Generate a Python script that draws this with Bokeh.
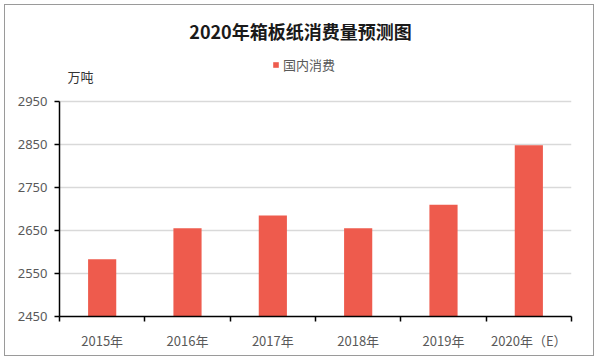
from bokeh.plotting import figure
from bokeh.models import (ColumnDataSource, FixedTicker, Range1d, Label, Legend, LegendItem)
from bokeh.embed import file_html
from bokeh.resources import INLINE

categories = ["2015年", "2016年", "2017年", "2018年", "2019年", "2020年（E）"]
values = [2583, 2655, 2685, 2655, 2710, 2848]
y_ticks = [2450, 2550, 2650, 2750, 2850, 2950]

xpos = [i + 0.5 for i in range(len(categories))]
src = ColumnDataSource(dict(x=xpos, top=values, cat=categories))

p = figure(width=590, height=352, output_backend="svg", toolbar_location=None,
           x_range=Range1d(0, len(categories)), y_range=Range1d(2450, 3173),
           min_border_left=54, min_border_right=24, min_border_top=0, min_border_bottom=41)
p.styles = {"border": "1px solid #9a9a9a", "margin": "4px"}
p.outline_line_color = None
p.background_fill_color = "white"
p.border_fill_color = "white"

bars = p.vbar(x="x", top="top", bottom=2450, width=0.33, source=src,
              fill_color="#EE5B4D", line_color=None)

# x axis
xa = p.xaxis[0]
xa.ticker = FixedTicker(ticks=xpos, minor_ticks=list(range(len(categories) + 1)))
xa.major_label_overrides = {x: c for x, c in zip(xpos, categories)}
xa.major_tick_out = 0
xa.major_tick_in = 0
xa.minor_tick_out = 5
xa.minor_tick_in = 0
xa.minor_tick_line_color = "black"
xa.minor_tick_line_width = 1.5
xa.axis_line_color = "black"
xa.axis_line_width = 1.5
xa.major_label_standoff = 9
xa.major_label_text_font = "Noto Sans CJK SC"
xa.major_label_text_font_size = "13px"
xa.major_label_text_color = "#595959"

# y axis
ya = p.yaxis[0]
ya.ticker = FixedTicker(ticks=y_ticks)
ya.bounds = (y_ticks[0], y_ticks[-1])
ya.major_tick_out = 5
ya.major_tick_in = 0
ya.minor_tick_out = 0
ya.minor_tick_in = 0
ya.major_tick_line_color = "black"
ya.major_tick_line_width = 1.5
ya.axis_line_color = "black"
ya.axis_line_width = 1.5
ya.major_label_standoff = 7
ya.major_label_text_font = "Noto Sans"
ya.major_label_text_font_size = "13px"
ya.major_label_text_color = "#595959"

p.xgrid.grid_line_color = None
p.ygrid.ticker = FixedTicker(ticks=y_ticks[1:])
p.ygrid.grid_line_color = "#D9D9D9"
p.ygrid.grid_line_width = 1.3

title = Label(x=241, y=286, x_units="screen", y_units="screen",
              text="2020年箱板纸消费量预测图", text_align="center", text_baseline="middle",
              text_font="Noto Sans CJK SC", text_font_size="18px", text_font_style="bold",
              text_color="#1a1a1a")
p.add_layout(title)

unit = Label(x=21, y=240, x_units="screen", y_units="screen", text="万吨",
             text_align="center", text_baseline="middle", text_font="Noto Sans CJK SC",
             text_font_size="13px", text_color="#333333")
p.add_layout(unit)

legend = Legend(items=[LegendItem(label="国内消费", renderers=[bars])],
                location=(213, 242), orientation="horizontal",
                glyph_width=7, glyph_height=7, label_standoff=4, label_height=14,
                label_text_font="Noto Sans CJK SC", label_text_font_size="13px",
                label_text_color="#595959", padding=0, margin=0, spacing=0,
                border_line_color=None, background_fill_alpha=0)
p.add_layout(legend)

open("out.html", "w").write(file_html(p, INLINE))
